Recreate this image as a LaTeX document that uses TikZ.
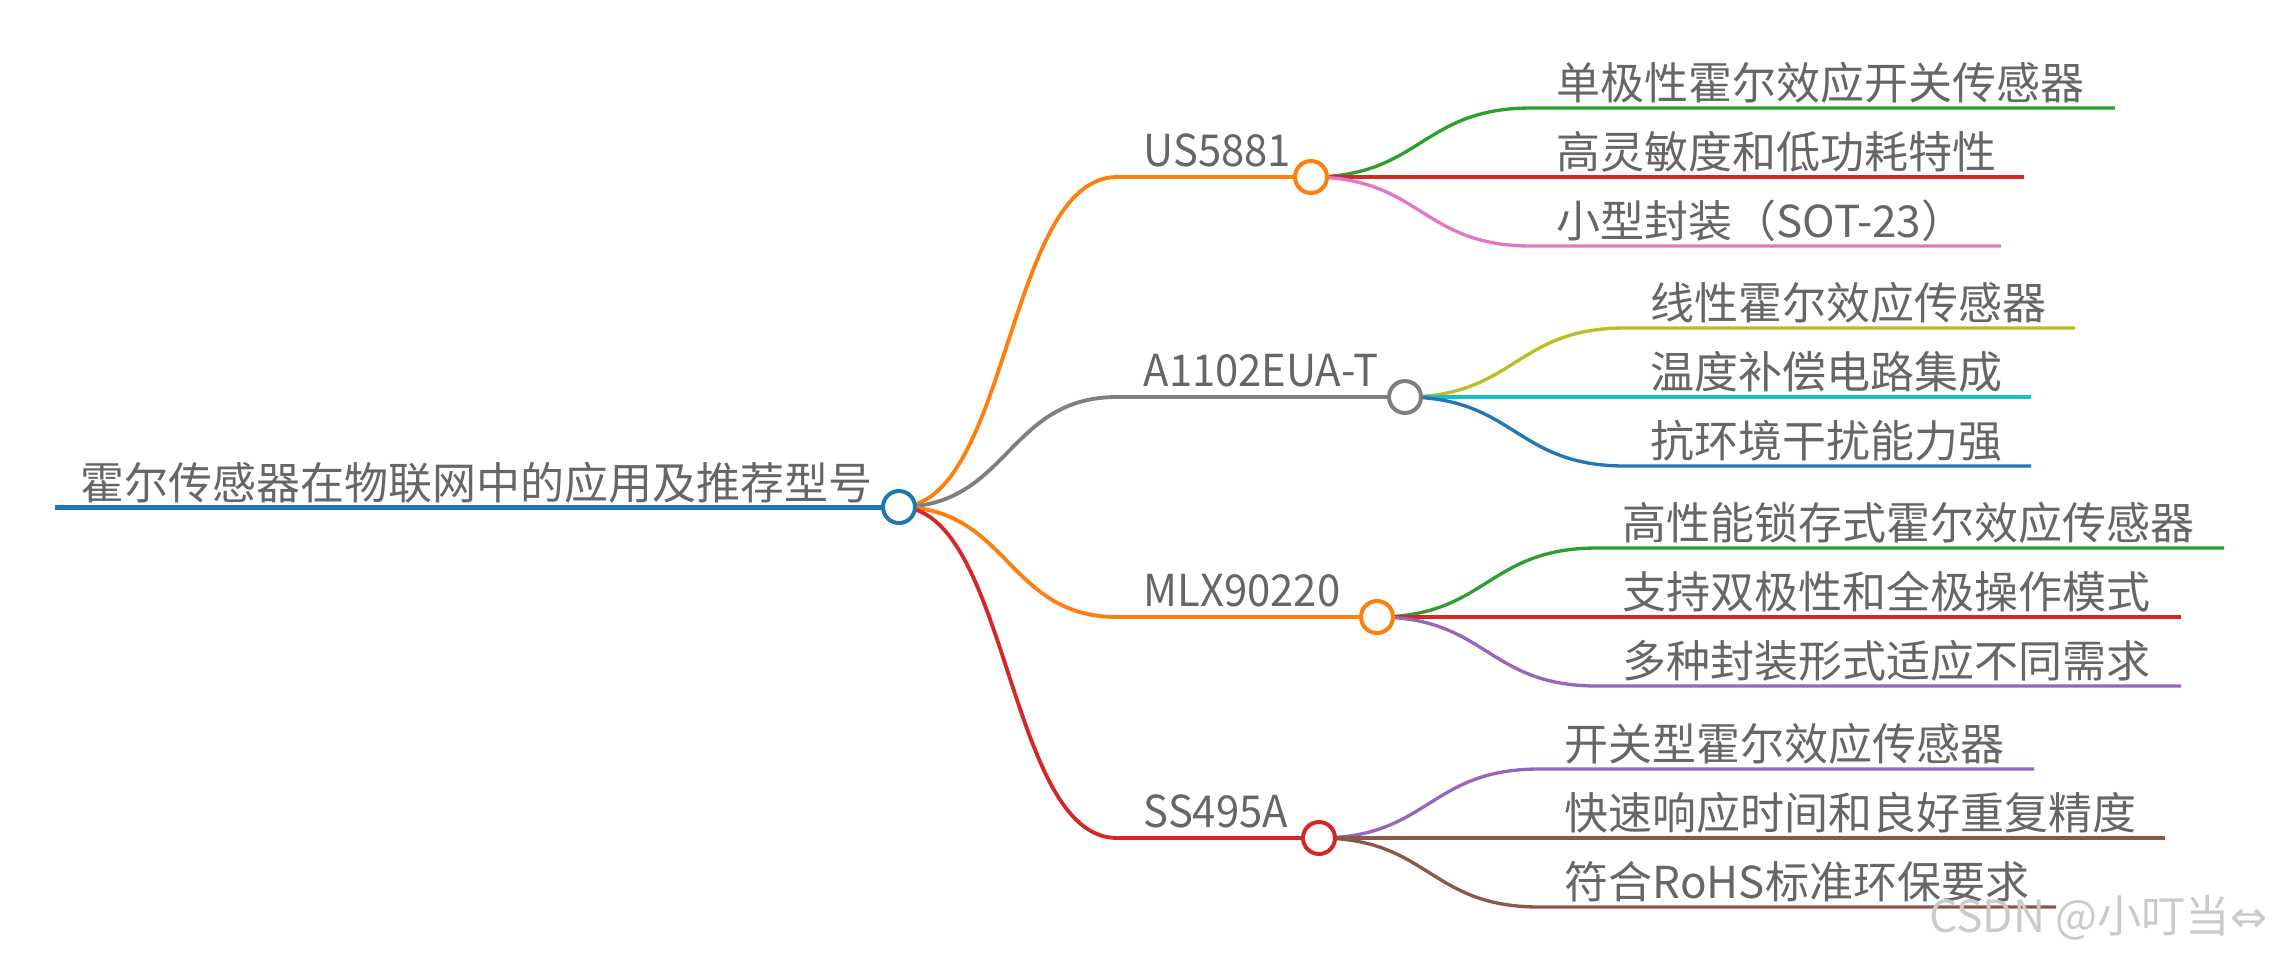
\documentclass[tikz,border=0pt]{standalone}
\usepackage{fontspec}
\newfontfamily\cjk{Noto Sans CJK SC}
\newfontfamily\cjknarrow[FakeStretch=0.95]{Noto Sans CJK SC}
\newfontfamily\symf{DejaVu Sans}
\usetikzlibrary{calc}
\pgfdeclarelayer{bg}
\pgfsetlayers{bg,main}
\definecolor{cBlue}{HTML}{1F77B4}
\definecolor{cOrange}{HTML}{FF7F0E}
\definecolor{cGreen}{HTML}{2CA02C}
\definecolor{cRed}{HTML}{D62728}
\definecolor{cPurple}{HTML}{9467BD}
\definecolor{cBrown}{HTML}{8C564B}
\definecolor{cPink}{HTML}{E377C2}
\definecolor{cGray}{HTML}{7F7F7F}
\definecolor{cOlive}{HTML}{BCBD22}
\definecolor{cCyan}{HTML}{17BECF}
\definecolor{txt}{HTML}{666666}
\definecolor{wmark}{HTML}{CACACA}
\begin{document}
\begin{tikzpicture}[x=0.3pt,y=-0.3pt,
  dot/.style={circle, draw=#1, fill=white, line width=1.2pt, minimum size=9.6pt, inner sep=0pt},
  lbl/.style={anchor=base west, inner sep=0pt, text=txt, font=\cjk\fontsize{13.2pt}{15pt}\selectfont},
  onelbl/.style={anchor=base west, inner sep=0pt, text=txt, font=\cjknarrow\fontsize{13.2pt}{15pt}\selectfont},
  rootlbl/.style={anchor=base west, inner sep=0pt, text=txt, font=\cjk\fontsize{13.2pt}{15pt}\selectfont},
  rootedge/.style={draw=#1, line width=1.5pt},
  edgeone/.style={draw=#1, line width=1.15pt},
  edgetwo/.style={draw=#1, line width=1.0pt},
  curve/.style={to path={.. controls +(110,0) and +(-110,0) .. (\tikztotarget)}}
]
\useasboundingbox (0,0) rectangle (2276,960);

% ---------- nodes ----------
\node[dot=cBlue] (R) at (899,507) {};
\node[rootlbl] (Rt) at (80,499) {霍尔传感器在物联网中的应用及推荐型号};
\coordinate (R0) at (55,507);

\node[dot=cOrange] (U) at (1311,177) {};
\node[dot=cGray]   (A) at (1405,397) {};
\node[dot=cOrange] (M) at (1377,617) {};
\node[dot=cRed]    (S) at (1319,838) {};

\node[onelbl] (Ut) at (1143,166) {US5881};
\node[onelbl] (At) at (1143,386) {A1102EUA-T};
\node[onelbl] (Mt) at (1143,606) {MLX90220};
\node[onelbl] (St) at (1143,827) {SS495A};

\coordinate (Uh) at (1117,177);
\coordinate (Ah) at (1117,397);
\coordinate (Mh) at (1117,617);
\coordinate (Sh) at (1117,838);

% US5881 children
\node[lbl] (U1) at (1556,99)  {单极性霍尔效应开关传感器};
\node[lbl] (U2) at (1556,168) {高灵敏度和低功耗特性};
\node[lbl] (U3) at (1556,237) {小型封装（SOT-23）};
\coordinate (U1h) at (1531,108); \coordinate (U1e) at (2115,108);
\coordinate (U2e) at (2024,177);
\coordinate (U3h) at (1531,246); \coordinate (U3e) at (2001,246);

% A1102EUA-T children
\node[lbl] (A1) at (1650,319) {线性霍尔效应传感器};
\node[lbl] (A2) at (1650,388) {温度补偿电路集成};
\node[lbl] (A3) at (1650,457) {抗环境干扰能力强};
\coordinate (A1h) at (1625,328); \coordinate (A1e) at (2075,328);
\coordinate (A2e) at (2031,397);
\coordinate (A3h) at (1625,466); \coordinate (A3e) at (2031,466);

% MLX90220 children
\node[lbl] (M1) at (1622,539) {高性能锁存式霍尔效应传感器};
\node[lbl] (M2) at (1622,608) {支持双极性和全极操作模式};
\node[lbl] (M3) at (1622,677) {多种封装形式适应不同需求};
\coordinate (M1h) at (1597,548); \coordinate (M1e) at (2224,548);
\coordinate (M2e) at (2181,617);
\coordinate (M3h) at (1597,686); \coordinate (M3e) at (2181,686);

% SS495A children
\node[lbl] (S1) at (1564,760) {开关型霍尔效应传感器};
\node[lbl] (S2) at (1564,829) {快速响应时间和良好重复精度};
\node[lbl] (S3) at (1564,898) {符合RoHS标准环保要求};
\coordinate (S1h) at (1539,769); \coordinate (S1e) at (2034,769);
\coordinate (S2e) at (2165,838);
\coordinate (S3h) at (1539,907); \coordinate (S3e) at (2056,907);

% watermark
\node[anchor=base east, inner sep=0pt, text=wmark, font=\cjk\fontsize{13.3pt}{15pt}\selectfont] (wm) at (2268,932) {CSDN @小叮当{\symf ⇔}};

% ---------- connectors ----------
\begin{pgfonlayer}{bg}
\draw[rootedge=cBlue] (R0) -- (R.center);

\draw[edgeone=cOrange] (R.center) to[curve] (Uh) -- (U.center);
\draw[edgeone=cGray]   (R.center) to[curve] (Ah) -- (A.center);
\draw[edgeone=cOrange] (R.center) to[curve] (Mh) -- (M.center);
\draw[edgeone=cRed]    (R.center) to[curve] (Sh) -- (S.center);

\draw[edgetwo=cGreen] (U.center) to[curve] (U1h) -- (U1e);
\draw[edgetwo=cRed]   (U.center) -- (U2e);
\draw[edgetwo=cPink]  (U.center) to[curve] (U3h) -- (U3e);

\draw[edgetwo=cOlive] (A.center) to[curve] (A1h) -- (A1e);
\draw[edgetwo=cCyan]  (A.center) -- (A2e);
\draw[edgetwo=cBlue]  (A.center) to[curve] (A3h) -- (A3e);

\draw[edgetwo=cGreen]  (M.center) to[curve] (M1h) -- (M1e);
\draw[edgetwo=cRed]    (M.center) -- (M2e);
\draw[edgetwo=cPurple] (M.center) to[curve] (M3h) -- (M3e);

\draw[edgetwo=cPurple] (S.center) to[curve] (S1h) -- (S1e);
\draw[edgetwo=cBrown]  (S.center) -- (S2e);
\draw[edgetwo=cBrown]  (S.center) to[curve] (S3h) -- (S3e);
\end{pgfonlayer}
\end{tikzpicture}
\end{document}
